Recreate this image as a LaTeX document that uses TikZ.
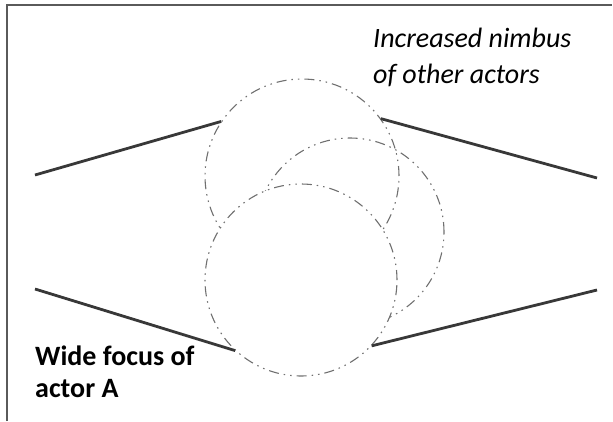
\documentclass[tikz,border=0pt]{standalone}
\usepackage{fontspec}
\setmainfont{Carlito}
\usetikzlibrary{calc}
\definecolor{framegray}{HTML}{5A5A5A}
\definecolor{wallgray}{HTML}{383838}
\definecolor{nimbusgray}{HTML}{707070}
\tikzset{
  nimbus/.style={circle,draw=nimbusgray,line width=1.1pt,inner sep=0pt,
    dash pattern=on 10pt off 5pt on 1.5pt off 5pt on 1.5pt off 5pt},
  wall/.style={wallgray,line width=2.8pt},
}

\begin{document}
\begin{tikzpicture}[x=1pt,y=-1pt]
  \useasboundingbox (0,0) rectangle (613,421);
  \draw[framegray,line width=2pt] (7,421) -- (7,5) -- (612,5);
  \node[nimbus,minimum size=194pt] (upper) at (302,176) {};
  \node[nimbus,minimum size=188pt] (middle) at (350,232) {};
  \node[nimbus,fill=white,minimum size=192pt] (lower) at (301,280) {};
  \coordinate (ul) at (35,175);
  \coordinate (ur) at (597,178);
  \coordinate (ll) at (35,289);
  \coordinate (lr) at (597,290);
  \draw[wall] (ul) -- (upper.146);
  \draw[wall] (upper.36) -- (ur);
  \draw[wall] (ll) -- (lower.227);
  \draw[wall] (lower.317) -- (lr);
  \node[font=\itshape\fontsize{28}{36}\selectfont,align=left,anchor=base west,inner sep=0pt] (nimbuslabel) at (373,83) {Increased nimbus\\of other actors};
  \node[font=\bfseries\fontsize{28}{32}\selectfont,align=left,anchor=base west,inner sep=0pt] (focuslabel) at (35,397) {Wide focus of\\actor A};
\end{tikzpicture}
\end{document}
